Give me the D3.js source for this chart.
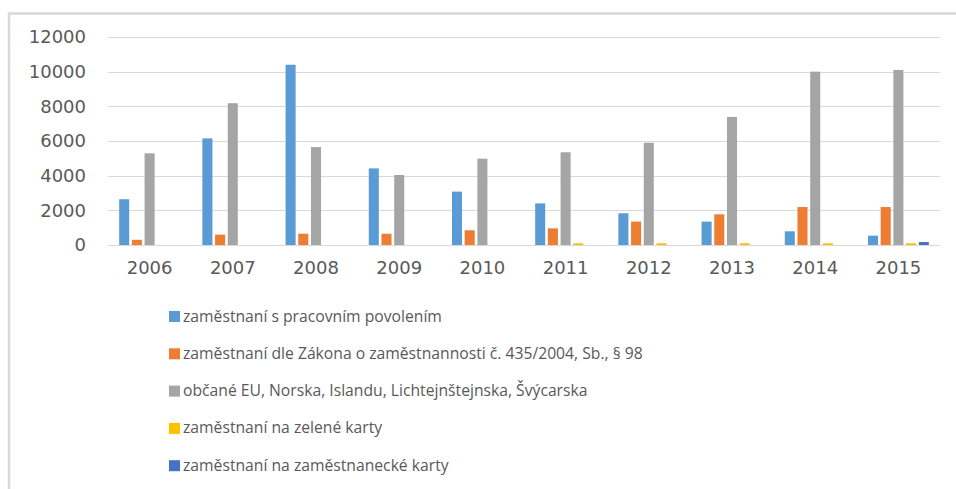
<!DOCTYPE html>
<html>
<head>
<meta charset="utf-8">
<script src="https://cdn.jsdelivr.net/npm/d3@7"></script>
<style>
  html, body { margin: 0; padding: 0; background: #fff; }
  .tick text { fill: #595959; }
  .legend text { fill: #595959; }
</style>
</head>
<body>
<div id="chart"></div>
<script>
var years = ["2006", "2007", "2008", "2009", "2010", "2011", "2012", "2013", "2014", "2015"];

var seriesNames = [
  "zaměstnaní s pracovním povolením",
  "zaměstnaní dle Zákona o zaměstnannosti č. 435/2004, Sb., § 98",
  "občané EU, Norska, Islandu, Lichtejnštejnska, Švýcarska",
  "zaměstnaní na zelené karty",
  "zaměstnaní na zaměstnanecké karty"
];

var povoleni   = [2640, 6150, 10400, 4420, 3080, 2400, 1830, 1350, 790, 540];
var zakon98    = [300, 600, 650, 650, 850, 960, 1350, 1770, 2190, 2190];
var obcaneEU   = [5290, 8180, 5650, 4040, 4980, 5350, 5900, 7390, 10000, 10100];
var zeleneKarty = [0, 0, 0, 0, 0, 100, 100, 100, 100, 100];
var zamKarty   = [0, 0, 0, 0, 0, 0, 0, 0, 0, 170];

var yTicks = [0, 2000, 4000, 6000, 8000, 10000, 12000];
var colors = ["#5B9BD5", "#ED7D31", "#A5A5A5", "#FFC000", "#4472C4"];

var allSeries = [povoleni, zakon98, obcaneEU, zeleneKarty, zamKarty];

var W = 956, H = 489;
var margin = {top: 37, right: 16, bottom: 244, left: 108};
var width = W - margin.left - margin.right,
    height = H - margin.top - margin.bottom;

var svg = d3.select("#chart").append("svg")
  .attr("width", W)
  .attr("height", H);

// chart area border (only top/left visible in the crop)
svg.append("rect")
  .attr("x", 9).attr("y", 13.5)
  .attr("width", W + 20).attr("height", H + 20)
  .attr("fill", "none")
  .attr("stroke", "#d9d9d9")
  .attr("stroke-width", 2.5);

var g = svg.append("g")
  .attr("transform", `translate(${margin.left},${margin.top})`);

var x0 = d3.scaleBand().domain(years).range([0, width]).padding(0);
var x1 = d3.scaleBand().domain(d3.range(seriesNames.length))
  .range([0, x0.bandwidth()])
  .paddingInner(0.21)
  .paddingOuter(0.88);
var y = d3.scaleLinear().domain([0, 12000]).range([height, 0]);

// gridlines
g.append("g")
  .selectAll("line")
  .data(yTicks)
  .join("line")
    .attr("x1", 0).attr("x2", width)
    .attr("y1", d => Math.round(y(d)) + 0.5)
    .attr("y2", d => Math.round(y(d)) + 0.5)
    .attr("stroke", "#d9d9d9")
    .attr("stroke-width", 1);

// y axis labels
var yAxis = g.append("g")
  .call(d3.axisLeft(y).tickValues(yTicks).tickSize(0).tickPadding(22).tickFormat(d3.format("d")));
yAxis.select(".domain").remove();
yAxis.selectAll("text")
  .attr("font-family", "DejaVu Sans")
  .attr("font-size", 18);

// x axis labels
var xAxis = g.append("g")
  .attr("transform", `translate(0,${height})`)
  .call(d3.axisBottom(x0).tickSize(0).tickPadding(16));
xAxis.select(".domain").remove();
xAxis.selectAll("text")
  .attr("font-family", "DejaVu Sans")
  .attr("font-size", 18);

// bars
var groups = g.append("g")
  .selectAll("g")
  .data(years)
  .join("g")
    .attr("transform", d => `translate(${x0(d)},0)`);

groups.selectAll("rect")
  .data((d, i) => allSeries.map((s, k) => ({k: k, v: s[i]})))
  .join("rect")
    .attr("x", d => x1(d.k))
    .attr("width", x1.bandwidth())
    .attr("y", d => y(d.v))
    .attr("height", d => Math.max(0, y(0) - y(d.v)))
    .attr("fill", d => colors[d.k]);

// legend
var legend = svg.append("g")
  .attr("class", "legend")
  .attr("transform", "translate(169,316)");

var items = legend.selectAll("g")
  .data(seriesNames)
  .join("g")
    .attr("transform", (d, i) => `translate(0,${i * 37.3})`);

items.append("rect")
  .attr("x", 0).attr("y", -5)
  .attr("width", 11).attr("height", 11)
  .attr("fill", (d, i) => colors[i]);

items.append("text")
  .attr("x", 14)
  .attr("dy", "0.35em")
  .attr("font-family", "Open Sans")
  .attr("font-size", 15.7)
  .text(d => d);
</script>
</body>
</html>
